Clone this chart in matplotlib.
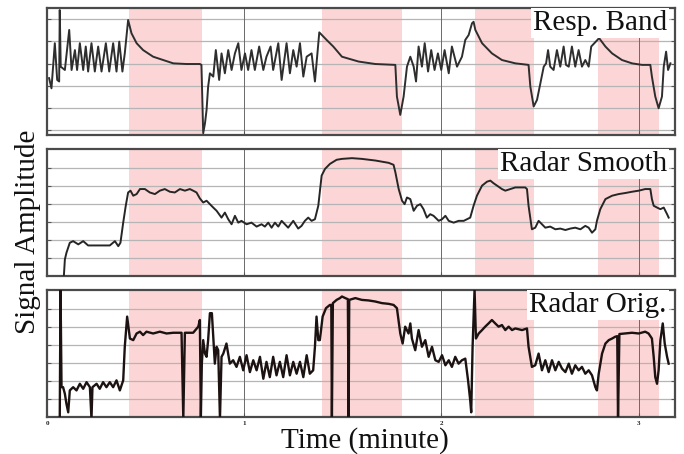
import matplotlib
matplotlib.use("Agg")
import matplotlib.pyplot as plt

# Time axis in minutes, amplitude in grid units
band_starts = [0.415, 1.392, 2.172, 2.795]
band_ends = [0.786, 1.800, 2.468, 3.102]
xtick_vals = [0, 1, 2, 3]
xtick_labels = ["0", "1", "2", "3"]
panel_names = ["Resp. Band", "Radar Smooth", "Radar Orig."]

resp_t = [0.009, 0.021, 0.038, 0.050, 0.060, 0.063, 0.068, 0.089, 0.111, 0.123, 0.140, 0.151,
          0.165, 0.182, 0.195, 0.207, 0.224, 0.241, 0.258, 0.275, 0.297, 0.314, 0.334, 0.351,
          0.365, 0.381, 0.393, 0.410, 0.427, 0.453, 0.486, 0.537, 0.588, 0.639, 0.706, 0.774,
          0.782, 0.791, 0.800, 0.808, 0.816, 0.825, 0.842, 0.855, 0.872, 0.884, 0.901, 0.918,
          0.935, 0.952, 0.969, 0.985, 1.003, 1.019, 1.036, 1.053, 1.075, 1.096, 1.112, 1.133,
          1.146, 1.172, 1.189, 1.214, 1.231, 1.248, 1.265, 1.282, 1.299, 1.316, 1.341, 1.358,
          1.380, 1.417, 1.451, 1.495, 1.580, 1.664, 1.766, 1.774, 1.791, 1.808, 1.825, 1.842,
          1.859, 1.871, 1.884, 1.901, 1.915, 1.932, 1.948, 1.965, 1.982, 1.999, 2.016, 2.037,
          2.053, 2.079, 2.104, 2.121, 2.138, 2.155, 2.163, 2.172, 2.206, 2.256, 2.307, 2.375,
          2.442, 2.451, 2.468, 2.485, 2.502, 2.519, 2.531, 2.541, 2.552, 2.569, 2.586, 2.603,
          2.620, 2.632, 2.646, 2.662, 2.679, 2.696, 2.713, 2.730, 2.747, 2.760, 2.800, 2.832,
          2.866, 2.916, 2.967, 3.018, 3.060, 3.068, 3.085, 3.102, 3.119, 3.128, 3.140, 3.150,
          3.162]
resp_v = [3.34, 2.88, 4.92, 3.26, 3.19, 6.42, 3.86, 3.71, 5.52, 3.71, 4.61, 3.71,
          4.92, 3.71, 4.77, 3.64, 4.92, 3.64, 4.77, 3.64, 4.92, 3.64, 4.92, 3.64,
          4.99, 3.64, 4.46, 5.97, 5.37, 4.92, 4.61, 4.31, 4.16, 4.01, 3.98, 3.98,
          3.94, 0.85, 1.30, 1.90, 2.96, 3.56, 3.41, 4.61, 3.26, 4.46, 3.56, 4.61,
          3.71, 4.46, 4.92, 3.71, 4.46, 3.71, 4.61, 3.71, 4.77, 3.71, 4.31, 4.77,
          3.71, 4.92, 3.26, 4.92, 3.56, 4.61, 3.86, 4.92, 3.41, 4.31, 4.46, 3.19,
          5.41, 5.07, 4.77, 4.31, 4.09, 3.98, 3.94, 2.51, 1.68, 2.51, 3.86, 4.31,
          3.86, 3.19, 4.77, 3.86, 4.92, 3.64, 4.61, 3.71, 4.46, 3.71, 4.61, 3.56,
          4.77, 3.86, 4.31, 5.07, 5.29, 5.82, 5.89, 5.52, 4.92, 4.46, 4.16, 4.01,
          3.94, 2.96, 2.06, 2.36, 3.11, 3.86, 4.01, 4.61, 3.86, 3.71, 4.61, 3.86,
          4.77, 3.94, 3.86, 4.77, 3.86, 4.61, 3.86, 4.16, 3.86, 4.77, 5.15, 4.77,
          4.46, 4.16, 4.01, 3.94, 3.94, 3.41, 2.51, 1.98, 2.51, 3.86, 4.54, 3.71,
          4.01]

smooth_t = [0.084, 0.089, 0.097, 0.114, 0.131, 0.157, 0.182, 0.207, 0.250, 0.317, 0.343, 0.360,
            0.371, 0.385, 0.398, 0.410, 0.422, 0.436, 0.453, 0.470, 0.495, 0.520, 0.546, 0.571,
            0.596, 0.622, 0.647, 0.673, 0.698, 0.723, 0.740, 0.757, 0.774, 0.791, 0.808, 0.825,
            0.842, 0.859, 0.884, 0.901, 0.918, 0.935, 0.952, 0.969, 0.985, 1.011, 1.036, 1.062,
            1.087, 1.104, 1.121, 1.138, 1.155, 1.172, 1.189, 1.222, 1.248, 1.273, 1.290, 1.307,
            1.324, 1.341, 1.358, 1.375, 1.392, 1.409, 1.434, 1.468, 1.495, 1.546, 1.596, 1.664,
            1.732, 1.757, 1.766, 1.783, 1.800, 1.813, 1.825, 1.842, 1.859, 1.876, 1.893, 1.909,
            1.926, 1.943, 1.960, 1.986, 2.003, 2.020, 2.037, 2.062, 2.087, 2.113, 2.130, 2.146,
            2.163, 2.180, 2.206, 2.231, 2.248, 2.265, 2.282, 2.307, 2.324, 2.375, 2.425, 2.434,
            2.442, 2.459, 2.476, 2.493, 2.510, 2.527, 2.552, 2.578, 2.603, 2.629, 2.654, 2.679,
            2.705, 2.730, 2.747, 2.764, 2.781, 2.789, 2.806, 2.832, 2.866, 2.899, 2.933, 2.967,
            3.001, 3.034, 3.060, 3.068, 3.077, 3.094, 3.111, 3.128, 3.145, 3.153]
smooth_v = [0.02, 0.92, 1.29, 1.85, 1.94, 1.76, 1.94, 1.70, 1.70, 1.70, 1.94, 1.66,
            1.85, 2.97, 3.91, 4.65, 4.75, 4.47, 4.56, 4.84, 4.84, 4.65, 4.56, 4.75,
            4.84, 4.69, 4.65, 4.84, 4.75, 4.84, 4.75, 4.65, 4.32, 4.09, 4.19, 4.00,
            3.81, 3.63, 3.25, 3.53, 3.16, 2.88, 3.35, 2.97, 3.07, 2.88, 2.97, 2.75,
            2.88, 2.75, 2.97, 2.69, 2.97, 2.75, 3.07, 2.69, 3.07, 2.64, 2.79, 3.07,
            3.25, 3.07, 3.16, 3.91, 5.59, 5.96, 6.24, 6.47, 6.52, 6.56, 6.52, 6.43,
            6.30, 6.19, 5.78, 4.84, 4.19, 4.00, 4.37, 4.28, 3.63, 3.91, 4.00, 3.72,
            3.25, 3.44, 3.35, 3.07, 3.16, 3.35, 3.07, 2.97, 3.07, 3.07, 3.16, 3.25,
            3.91, 4.47, 5.03, 5.25, 5.31, 5.16, 5.03, 4.84, 4.75, 4.93, 4.93, 4.84,
            3.91, 2.60, 2.69, 3.07, 2.88, 2.69, 2.75, 2.60, 2.64, 2.56, 2.64, 2.69,
            2.60, 2.79, 2.69, 2.41, 2.60, 3.07, 3.72, 4.28, 4.47, 4.56, 4.62, 4.69,
            4.75, 4.84, 4.84, 4.28, 3.91, 3.81, 3.72, 3.81, 3.44, 3.25]

orig_t = [0.063, 0.067, 0.072, 0.080, 0.089, 0.097, 0.106, 0.114, 0.131, 0.148, 0.165, 0.182,
          0.199, 0.216, 0.224, 0.229, 0.250, 0.266, 0.283, 0.300, 0.317, 0.334, 0.351, 0.368,
          0.385, 0.393, 0.405, 0.419, 0.436, 0.453, 0.470, 0.486, 0.503, 0.537, 0.571, 0.605,
          0.639, 0.681, 0.690, 0.698, 0.740, 0.766, 0.774, 0.779, 0.784, 0.791, 0.800, 0.808,
          0.816, 0.825, 0.835, 0.842, 0.850, 0.859, 0.867, 0.876, 0.884, 0.893, 0.909, 0.926,
          0.943, 0.960, 0.977, 0.994, 1.011, 1.028, 1.045, 1.062, 1.079, 1.096, 1.112, 1.129,
          1.146, 1.163, 1.180, 1.197, 1.214, 1.231, 1.248, 1.265, 1.282, 1.299, 1.316, 1.332,
          1.349, 1.358, 1.366, 1.375, 1.383, 1.397, 1.414, 1.434, 1.441, 1.444, 1.449, 1.468,
          1.485, 1.495, 1.512, 1.525, 1.529, 1.532, 1.563, 1.596, 1.630, 1.664, 1.698, 1.732,
          1.757, 1.774, 1.791, 1.803, 1.816, 1.833, 1.842, 1.850, 1.867, 1.884, 1.901, 1.918,
          1.935, 1.952, 1.969, 1.986, 2.003, 2.020, 2.037, 2.053, 2.070, 2.087, 2.104, 2.121,
          2.135, 2.146, 2.151, 2.158, 2.168, 2.175, 2.189, 2.206, 2.222, 2.239, 2.256, 2.273,
          2.290, 2.307, 2.324, 2.341, 2.358, 2.375, 2.409, 2.434, 2.442, 2.459, 2.476, 2.493,
          2.510, 2.527, 2.544, 2.561, 2.578, 2.595, 2.612, 2.629, 2.646, 2.662, 2.679, 2.696,
          2.713, 2.730, 2.747, 2.764, 2.781, 2.789, 2.798, 2.815, 2.832, 2.849, 2.866, 2.882,
          2.892, 2.896, 2.903, 2.933, 2.967, 3.001, 3.034, 3.051, 3.068, 3.077, 3.085, 3.094,
          3.102, 3.111, 3.123, 3.133, 3.145, 3.153]
orig_v = [-0.1, 7.10, 1.66, 1.66, 1.29, 0.73, 0.26, 1.48, 1.66, 1.48, 1.85, 1.57,
          1.94, 1.66, -0.1, 1.66, 1.85, 1.57, 1.94, 1.66, 1.94, 1.66, 2.04, 1.48,
          2.04, 3.91, 5.59, 4.37, 4.28, 4.65, 4.75, 4.56, 4.75, 4.65, 4.75, 4.65,
          4.69, 4.69, -0.1, 4.69, 4.69, 5.03, 5.40, -0.1, 2.97, 4.28, 3.53, 3.35,
          4.28, 5.78, 5.78, 4.47, 2.97, 3.91, 3.72, -0.1, 3.35, 3.53, 4.09, 2.97,
          3.16, 2.79, 3.35, 2.60, 3.44, 2.50, 3.16, 2.60, 3.35, 2.13, 3.07, 2.22,
          3.35, 2.32, 3.07, 2.22, 3.44, 2.32, 3.07, 2.41, 3.07, 2.22, 3.44, 2.41,
          2.60, 3.91, 5.59, 4.28, 4.28, 5.59, 6.06, 6.24, 6.24, -0.1, 6.34, 6.52,
          6.62, 6.71, 6.62, 6.56, -0.1, 6.52, 6.62, 6.52, 6.49, 6.43, 6.34, 6.30,
          6.24, 6.06, 4.65, 4.09, 5.03, 4.65, 5.21, 4.37, 3.72, 4.84, 3.91, 4.28,
          3.35, 3.91, 3.16, 3.07, 3.44, 2.88, 3.16, 2.79, 3.35, 2.97, 3.16, 3.25,
          2.04, 0.92, 0.26, 3.91, 7.10, 4.37, 4.65, 4.84, 5.03, 5.21, 5.40, 5.21,
          5.03, 5.12, 4.84, 5.03, 4.84, 4.93, 4.84, 4.93, 3.91, 2.79, 2.88, 3.53,
          2.60, 3.16, 2.50, 3.16, 2.60, 3.07, 2.69, 2.50, 2.97, 2.41, 2.88, 2.60,
          2.79, 2.41, 2.60, 2.32, 1.66, 1.48, 2.41, 3.53, 4.09, 4.28, 4.37, 4.47,
          4.50, -0.1, 4.62, 4.65, 4.69, 4.65, 4.75, 4.65, 4.37, 3.35, 2.22, 1.85,
          2.60, 4.28, 5.21, 4.09, 3.35, 2.97]

plt.rcParams["font.family"] = ["Liberation Serif", "DejaVu Serif"]

fig = plt.figure(figsize=(6.84, 4.54), dpi=100)

# data, ylim, axes bottom, line width, line colour
panels = [
    (resp_t, resp_v, (0.77, 6.51), 0.7026, 1.4, "#2e2e2e"),
    (smooth_t, smooth_v, (0.0, 7.07), 0.3921, 1.4, "#262626"),
    (orig_t, orig_v, (0.0, 7.07), 0.0815, 1.7, "#1c1212"),
]

for i, (t, v, ylim, bottom, lw, col) in enumerate(panels):
    ax = fig.add_axes([0.0692, bottom, 0.9176, 0.2797])
    for s, e in zip(band_starts, band_ends):
        ax.axvspan(s, e, color="#fcd6d6", lw=0, zorder=0)
    for yv in [1, 2, 3, 4, 5, 6]:
        ax.axhline(yv, color="#b5b5b5", lw=0.9, zorder=1)
    for xv in [1, 2, 3]:
        ax.axvline(xv, color="#6a6a6a", lw=0.7, zorder=1)
    ax.plot(t, v, color=col, lw=lw, zorder=3)
    ax.set_xlim(0, 3.185)
    ax.set_ylim(*ylim)
    ax.set_yticks([1, 2, 3, 4, 5, 6])
    ax.set_yticklabels([])
    ax.tick_params(axis="y", direction="in", length=3, width=0.8, left=True, right=True,
                   colors="#555555")
    ax.set_xticks(xtick_vals)
    ax.tick_params(axis="x", direction="in", length=3, width=0.8, colors="#555555", pad=3)
    if i == 2:
        ax.set_xticklabels(xtick_labels, fontsize=5, color="#222222", fontweight="bold")
    else:
        ax.set_xticklabels([])
    for sp in ax.spines.values():
        sp.set_color("#4a4a4a")
        sp.set_linewidth(1.6)
    ax.text(0.987, 0.985, panel_names[i], transform=ax.transAxes, ha="right", va="top",
            fontsize=21, color="#111111", zorder=5,
            bbox=dict(facecolor="white", edgecolor="none", pad=1.5))

fig.text(0.041, 0.489, "Signal Amplitude", rotation=90, ha="center", va="center",
         fontsize=21, color="#111111")
fig.text(0.534, 0.029, "Time (minute)", ha="center", va="center", fontsize=21,
         color="#111111")

fig.savefig("out.png", dpi=100)
